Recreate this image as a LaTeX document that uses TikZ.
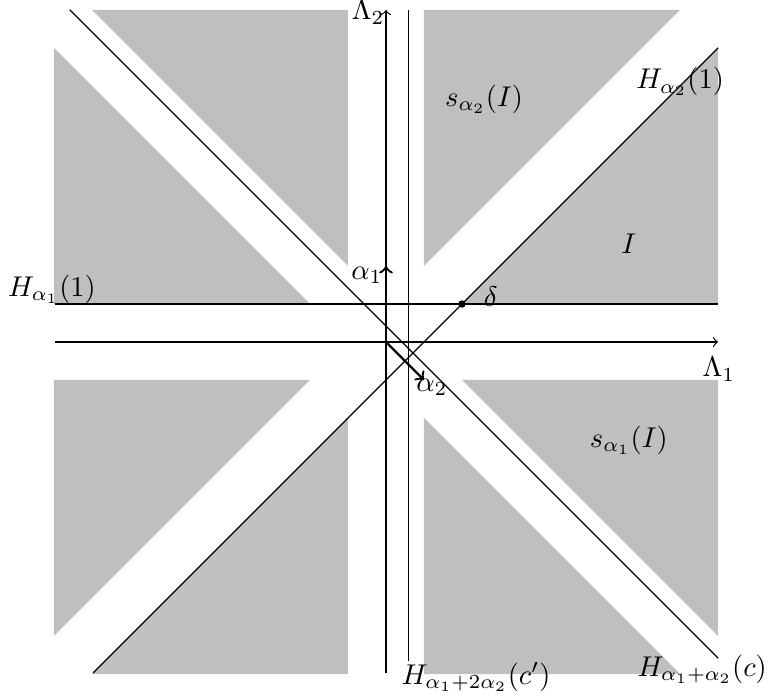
\documentclass[tikz,border=0pt]{standalone}
\usepackage{amsmath}
\usepackage{tikz}

\begin{document}
\begin{tikzpicture}[
 x=13.3pt,y=13.3pt,
 alcove/.style={fill=lightgray,draw=none},
 wall/.style={thin},
 root/.style={->,thick}]
\useasboundingbox (-10.158,-9.316) rectangle (10.053,9.0);
% shaded alcoves
\fill[alcove] (1,2) -- (1,8.74) -- (7.74,8.74) -- cycle;
\fill[alcove] (2,1) -- (8.74,1) -- (8.74,7.74) -- cycle;
\fill[alcove] (-1,2) -- (-1,8.74) -- (-7.74,8.74) -- cycle;
\fill[alcove] (-2,1) -- (-8.74,1) -- (-8.74,7.74) -- cycle;
\fill[alcove] (-1,-2) -- (-1,-8.74) -- (-7.74,-8.74) -- cycle;
\fill[alcove] (-2,-1) -- (-8.74,-1) -- (-8.74,-7.74) -- cycle;
\fill[alcove] (1,-2) -- (1,-8.74) -- (7.74,-8.74) -- cycle;
\fill[alcove] (2,-1) -- (8.74,-1) -- (8.74,-7.74) -- cycle;
% axes
\coordinate (O) at (0,0);
\draw[->] (-8.71,0) -- (8.74,0) coordinate (xend);
\draw[->] (0,-8.71) -- (0,8.74) coordinate (yend);
\node (lamone) at (8.76,-0.72) {$\Lambda_1$};
\node (lamtwo) at (-0.47,8.68) {$\Lambda_2$};
% walls
\draw[wall] (-8.71,1) coordinate (hone) -- (8.74,1);
\draw[wall] (-7.71,-8.71) -- (8.74,7.74) coordinate (htwo);
\draw[wall] (0.6,8.74) -- (0.6,-8.39) coordinate (hcp);
\draw[wall] (-8.32,8.74) -- (8.74,-8.32) coordinate (hc);
\node (honelab) at (-8.79,1.38) {$H_{\alpha_1}(1)$};
\node (htwolab) at (7.74,6.85) {$H_{\alpha_2}(1)$};
\node (hcplab) at (2.37,-8.82) {$H_{\alpha_1+2\alpha_2}(c')$};
\node (hclab) at (8.32,-8.62) {$H_{\alpha_1+\alpha_2}(c)$};
% alcove names
\node (sa2) at (2.58,6.39) {$s_{\alpha_2}(I)$};
\node (fund) at (6.39,2.58) {$I$};
\node (sa1) at (6.39,-2.58) {$s_{\alpha_1}(I)$};
% roots and delta
\draw[root] (O) -- (0,2) coordinate (aone);
\draw[root] (O) -- (1,-1) coordinate (atwo);
\node (aonelab) at (-0.5,1.76) {$\alpha_1$};
\node (atwolab) at (1.21,-1.2) {$\alpha_2$};
\fill (2,1) coordinate (delta) circle (1.3pt);
\node (deltalab) at (2.76,1.2) {$\delta$};
\end{tikzpicture}
\end{document}
